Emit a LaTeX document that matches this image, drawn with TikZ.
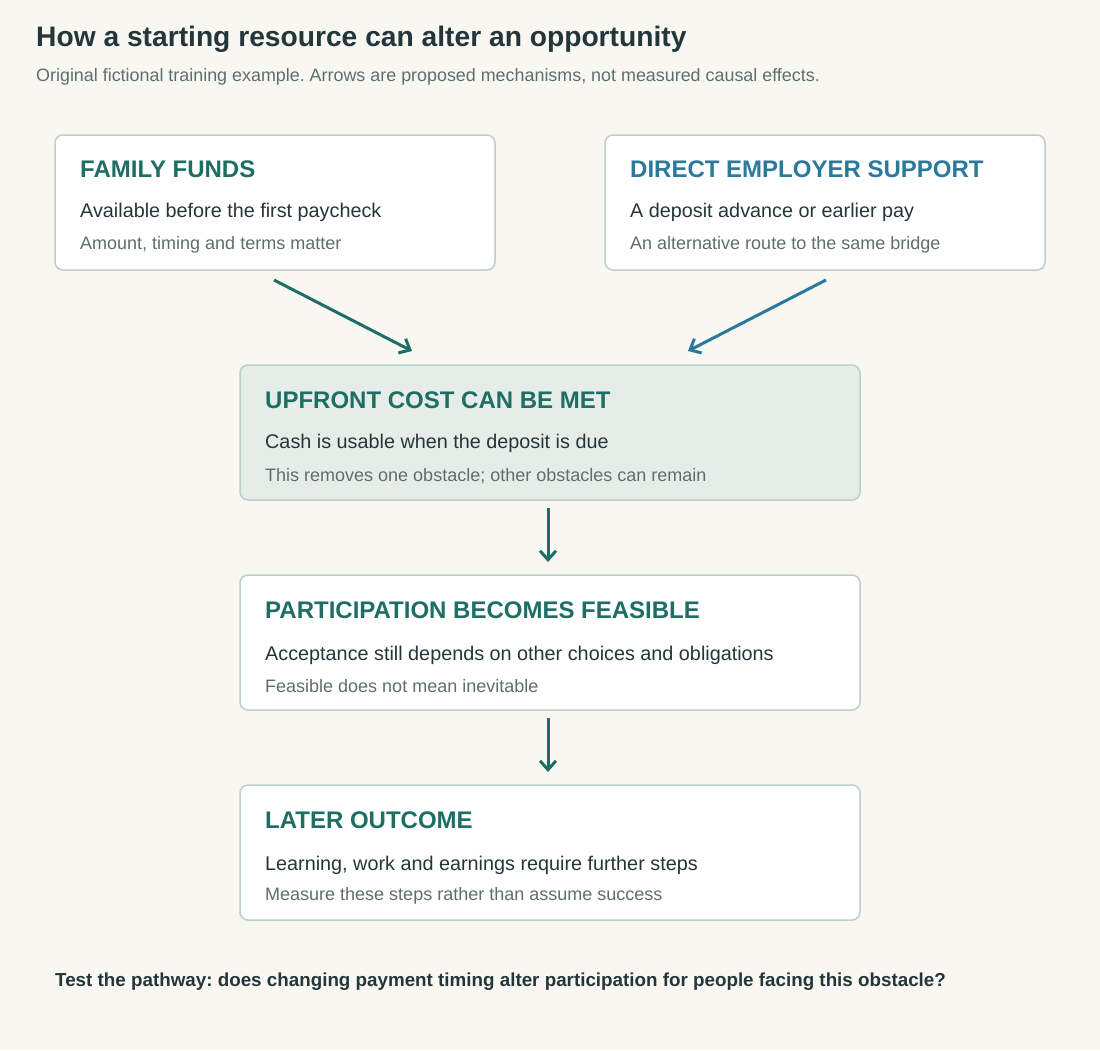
\documentclass[tikz,border=0pt]{standalone}
\usepackage{fontspec}
\setmainfont{Liberation Sans}
\usetikzlibrary{arrows.meta}
\definecolor{bg}{HTML}{F8F7F2}
\definecolor{teal}{HTML}{1E6E64}
\definecolor{blu}{HTML}{2B7A9C}
\definecolor{bord}{HTML}{BBD0C6}
\definecolor{dark}{HTML}{24363A}
\definecolor{gry}{HTML}{5E6E6E}
\definecolor{hl}{HTML}{E6EDE8}
\frenchspacing
\begin{document}
\begin{tikzpicture}[x=1pt,y=-1pt,
 box/.style={draw=bord,line width=1.5pt,rounded corners=8pt,fill=white},
 ttl/.style={anchor=west,font=\fontsize{24}{28}\selectfont\bfseries,text=teal,inner sep=0},
 l2/.style={anchor=west,font=\fontsize{19.8}{23}\selectfont,text=dark,inner sep=0},
 l3/.style={anchor=west,font=\fontsize{18}{21}\selectfont,text=gry,inner sep=0},
 arr/.style={line width=3pt,draw=teal,-{Straight Barb[length=9pt,width=16pt,line width=3pt]}}]
\fill[bg] (0,0) rectangle (1100,1050);
\node[anchor=west,inner sep=0,font=\fontsize{28.2}{32}\selectfont\bfseries,text=dark] (t) at (36,39) {How a starting resource can alter an opportunity};
\node[anchor=west,inner sep=0,font=\fontsize{17.9}{21}\selectfont,text=gry] (s) at (36,77) {Original fictional training example. Arrows are proposed mechanisms, not measured causal effects.};
\draw[box] (55,135) rectangle (495,270);
\node[ttl] (a1) at (80,169) {FAMILY FUNDS};
\node[l2] (a2) at (80,212) {Available before the first paycheck};
\node[l3] (a3) at (80,245) {Amount, timing and terms matter};
\draw[box] (605,135) rectangle (1045,270);
\node[ttl,text=blu] (b1) at (630,169) {DIRECT EMPLOYER SUPPORT};
\node[l2] (b2) at (630,212) {A deposit advance or earlier pay};
\node[l3] (b3) at (630,245) {An alternative route to the same bridge};
\draw[box,fill=hl] (240,365) rectangle (860,500);
\node[ttl] (c1) at (265,400) {UPFRONT COST CAN BE MET};
\node[l2] (c2) at (265,443) {Cash is usable when the deposit is due};
\node[l3] (c3) at (265,476) {This removes one obstacle; other obstacles can remain};
\draw[box] (240,575) rectangle (860,710);
\node[ttl] (d1) at (265,610) {PARTICIPATION BECOMES FEASIBLE};
\node[l2] (d2) at (265,655) {Acceptance still depends on other choices and obligations};
\node[l3] (d3) at (265,686) {Feasible does not mean inevitable};
\draw[box] (240,785) rectangle (860,920);
\node[ttl] (e1) at (265,820) {LATER OUTCOME};
\node[l2] (e2) at (265,865) {Learning, work and earnings require further steps};
\node[l3] (e3) at (265,896) {Measure these steps rather than assume success};
\coordinate (p1) at (274,280); \coordinate (q1) at (412,351);
\coordinate (p2) at (826,280); \coordinate (q2) at (688,351);
\coordinate (p3) at (548,508); \coordinate (q3) at (548,562);
\coordinate (p4) at (548,718); \coordinate (q4) at (548,772);
\draw[arr] (p1) -- (q1);
\draw[arr,draw=blu] (p2) -- (q2);
\draw[arr] (p3) -- (q3);
\draw[arr] (p4) -- (q4);
\node[anchor=west,inner sep=0,font=\fontsize{18.8}{22}\selectfont\bfseries,text=dark] (f) at (55,982) {Test the pathway: does changing payment timing alter participation for people facing this obstacle?};
\end{tikzpicture}
\end{document}
